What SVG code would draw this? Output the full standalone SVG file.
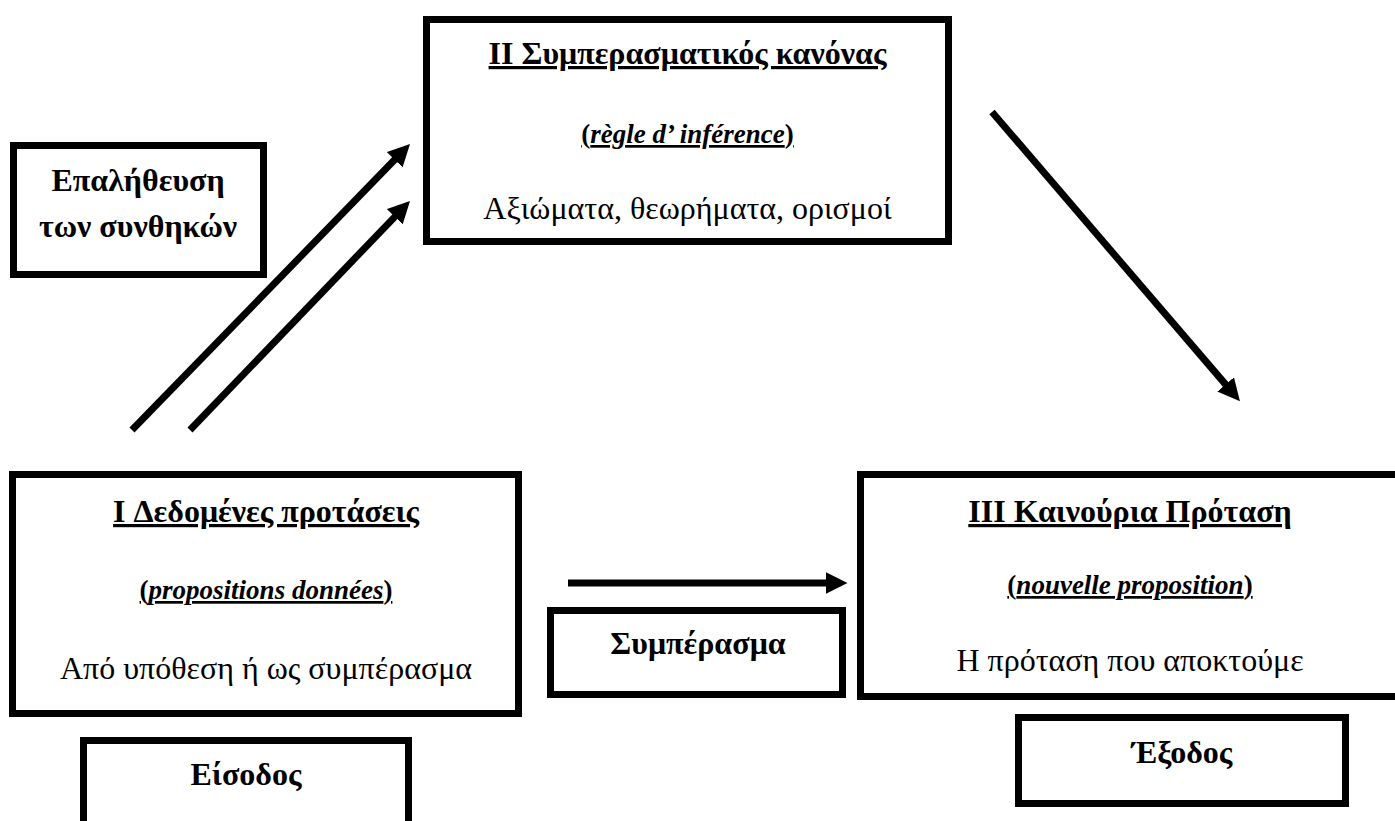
<svg xmlns="http://www.w3.org/2000/svg" width="1395" height="821" viewBox="0 0 1395 821">
<style>
.box{fill:#fff;stroke:#000;stroke-width:7}
.t{font-family:"Liberation Serif","Times New Roman",serif;fill:#000;text-anchor:middle}
.title{font-size:32px;font-weight:bold;text-decoration:underline}
.ital{font-size:27px;font-weight:bold;text-decoration:underline}
.ital .i{font-style:italic}
.body{font-size:32px}
.lbl{font-size:32px;font-weight:bold}
.conn{stroke:#000;stroke-width:7;fill:none;marker-end:url(#ah)}
</style>
<defs>
<marker id="ah" markerUnits="userSpaceOnUse" markerWidth="22" markerHeight="22" refX="5" refY="10" orient="auto" viewBox="0 0 20 20">
<path d="M0,0 L20,10 L0,20 z" fill="#000"/>
</marker>
</defs>
<rect width="1395" height="821" fill="#fff"/>
<g id="connectors">
<line class="conn" x1="132" y1="430" x2="398.5" y2="155.8"/>
<line class="conn" x1="190" y1="430" x2="398.6" y2="212.8"/>
<line class="conn" x1="992" y1="112" x2="1229.2" y2="388.6"/>
<line class="conn" x1="568" y1="583" x2="831" y2="583"/>
</g>
<g id="node-rule">
<rect class="box" x="426.5" y="19.5" width="522" height="222"/>
<text class="t title" x="687.5" y="64">II Συμπερασματικός κανόνας</text>
<text class="t ital" x="687.5" y="143">(<tspan class="i">règle d’ inférence</tspan>)</text>
<text class="t body" x="687.5" y="219">Αξιώματα, θεωρήματα, ορισμοί</text>
</g>
<g id="node-given">
<rect class="box" x="12.5" y="474.5" width="506" height="239"/>
<text class="t title" x="266" y="522">I Δεδομένες προτάσεις</text>
<text class="t ital" x="266" y="599">(<tspan class="i">propositions données</tspan>)</text>
<text class="t body" x="266" y="679">Από υπόθεση ή ως συμπέρασμα</text>
</g>
<g id="node-new">
<rect class="box" x="860.5" y="474.5" width="539" height="222"/>
<text class="t title" x="1130" y="522">III Καινούρια Πρόταση</text>
<text class="t ital" x="1130" y="594">(<tspan class="i">nouvelle proposition</tspan>)</text>
<text class="t body" x="1130" y="671">Η πρόταση που αποκτούμε</text>
</g>
<g id="node-verify">
<rect class="box" x="13.5" y="145.5" width="250" height="129"/>
<text class="t lbl" x="138" y="191">Επαλήθευση</text>
<text class="t lbl" x="138" y="237">των συνθηκών</text>
</g>
<g id="node-conclusion">
<rect class="box" x="550.5" y="610.5" width="292" height="84"/>
<text class="t lbl" x="698" y="654">Συμπέρασμα</text>
</g>
<g id="node-input">
<rect class="box" x="83.5" y="740.5" width="325" height="120"/>
<text class="t lbl" x="246" y="785">Είσοδος</text>
</g>
<g id="node-output">
<rect class="box" x="1018.5" y="717.5" width="327" height="86"/>
<text class="t lbl" x="1182" y="763">Έξοδος</text>
</g>
</svg>
